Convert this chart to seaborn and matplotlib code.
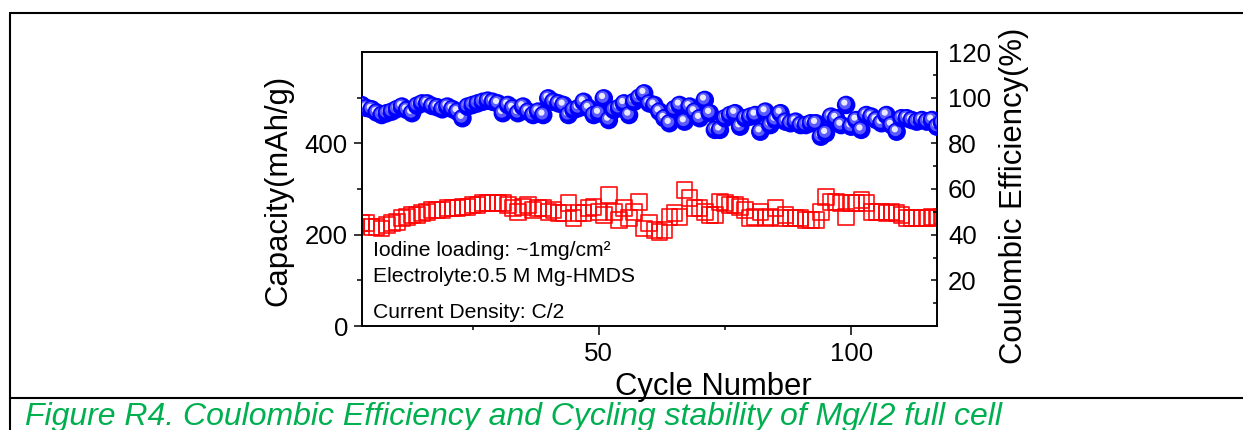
import numpy as np
import pandas as pd
import matplotlib
matplotlib.use("Agg")
import matplotlib.pyplot as plt
import matplotlib.transforms as mtransforms
from matplotlib.lines import Line2D
from matplotlib.ticker import FixedLocator
import seaborn as sns

# ---------------- data ----------------
cycles = list(range(1, 121))

capacity = [222, 218, 225, 225, 217, 217, 214, 221, 225, 228,
            236, 239, 243, 243, 247, 250, 254, 254, 254, 258,
            258, 258, 261, 261, 265, 265, 269, 269, 269, 269,
            269, 265, 258, 250, 261, 265, 254, 258, 258, 250,
            254, 247, 247, 269, 236, 247, 247, 258, 261, 250,
            243, 287, 250, 232, 258, 236, 250, 272, 214, 225,
            210, 206, 210, 239, 247, 239, 298, 280, 258, 258,
            250, 243, 243, 272, 269, 265, 265, 261, 254, 236,
            239, 250, 236, 239, 258, 236, 243, 236, 236, 236,
            232, 232, 232, 250, 283, 272, 272, 269, 239, 269,
            269, 276, 269, 250, 250, 250, 247, 250, 247, 243,
            236, 236, 236, 236, 236, 239, 236, 240, 238, 236]

coulombic_eff = [95.0, 96.0, 96.8, 95.5, 94.9, 93.5, 92.4, 93.2, 93.9, 95.0,
                 96.1, 94.6, 93.2, 96.5, 97.5, 97.5, 96.4, 95.8, 94.9, 96.1,
                 95.0, 93.9, 91.0, 96.1, 96.8, 97.5, 98.2, 98.7, 98.2, 97.5,
                 93.2, 96.8, 95.4, 93.2, 96.1, 93.9, 92.4, 93.9, 92.4, 99.7,
                 98.2, 97.5, 96.8, 92.4, 94.6, 95.4, 98.2, 95.4, 92.4, 93.2,
                 99.7, 90.2, 94.6, 95.5, 97.5, 92.4, 98.2, 100.0, 101.9, 97.5,
                 96.8, 93.9, 91.0, 88.8, 95.0, 96.8, 89.5, 96.1, 93.9, 91.0,
                 99.0, 93.2, 85.9, 85.9, 91.0, 92.4, 93.2, 87.3, 91.0, 91.7,
                 92.4, 85.1, 93.9, 88.0, 90.2, 93.2, 89.5, 88.8, 89.5, 88.0,
                 88.0, 88.8, 88.8, 82.9, 84.4, 91.7, 91.0, 88.0, 96.8, 87.3,
                 90.2, 85.9, 92.4, 91.7, 90.2, 88.8, 92.4, 88.0, 85.1, 91.0,
                 91.0, 90.2, 89.5, 90.2, 89.5, 90.2, 87.3, 89.0, 90.0, 89.0]

x_major = [50, 100]
x_minor = [25, 75]
cap_major = [0, 200, 400]
cap_minor = [100, 300, 500]
ce_major = [20, 40, 60, 80, 100, 120]
ce_minor = [10, 30, 50, 70, 90, 110]

annotations = ["Iodine loading: ~1mg/cm\u00b2",
               "Electrolyte:0.5 M Mg-HMDS",
               "Current Density: C/2"]
caption = "Figure R4. Coulombic Efficiency and Cycling stability of Mg/I2 full cell"

df = pd.DataFrame({"cycle": cycles, "capacity": capacity, "ce": coulombic_eff})

# ---------------- style ----------------
sns.set_style("white")
plt.rcParams["font.family"] = ["Liberation Sans", "DejaVu Sans"]
plt.rcParams["axes.linewidth"] = 1.2
for key in ["text.color", "axes.labelcolor", "xtick.color", "ytick.color",
            "xtick.labelcolor", "ytick.labelcolor"]:
    plt.rcParams[key] = "black"

W, H = 1243, 430
fig = plt.figure(figsize=(W / 100, H / 100), dpi=100)
fig.patch.set_facecolor("white")

left, right, bottom, top = 361.5 / W, 937 / W, 1 - 326 / H, 1 - 52 / H
ax = fig.add_axes([left, bottom, right - left, top - bottom])
ax2 = ax.twinx()

# capacity: open red squares on left axis
sns.scatterplot(data=df, x="cycle", y="capacity", ax=ax, marker="s", s=125,
                facecolor="none", edgecolor="#ff0000", linewidth=1.25,
                alpha=0.9, legend=False, zorder=3)

# coulombic efficiency: shaded blue spheres on right axis
off_mid = mtransforms.offset_copy(ax2.transData, fig=fig, x=-0.8, y=1.0, units="points")
off_hi = mtransforms.offset_copy(ax2.transData, fig=fig, x=-1.3, y=1.7, units="points")
for i, (c, v) in enumerate(zip(cycles, coulombic_eff)):
    z = 3 + i * 0.01
    ax2.scatter([c], [v], s=178, color="#0000ff", edgecolor="none", zorder=z)
    ax2.scatter([c], [v], s=72, color="#5a5aff", edgecolor="none", zorder=z + 0.003,
                transform=off_mid)
    ax2.scatter([c], [v], s=20, color="#e8e8ff", edgecolor="none", zorder=z + 0.006,
                transform=off_hi)

# ---------------- axes ----------------
ax.set_xlim(3, 117)
ax.set_ylim(0, 600)
ax2.set_ylim(0, 120)

ax.xaxis.set_major_locator(FixedLocator(x_major))
ax.xaxis.set_minor_locator(FixedLocator(x_minor))
ax.yaxis.set_major_locator(FixedLocator(cap_major))
ax.yaxis.set_minor_locator(FixedLocator(cap_minor))
ax2.yaxis.set_major_locator(FixedLocator(ce_major))
ax2.yaxis.set_minor_locator(FixedLocator(ce_minor))

tick_fs = 18.6
ax.tick_params(axis="y", which="major", direction="out", length=5.8, width=1.1,
               labelsize=tick_fs, pad=4, left=True, right=False)
ax.tick_params(axis="y", which="minor", direction="out", length=3.6, width=1.1,
               left=True, right=False)
ax.tick_params(axis="x", which="major", direction="out", length=6.5, width=1.1,
               labelsize=tick_fs, pad=5, bottom=True, top=False)
ax.tick_params(axis="x", which="minor", direction="out", length=3.2, width=1.1,
               bottom=True, top=False)
ax2.tick_params(axis="y", which="major", direction="in", length=4.3, width=1.1,
                labelsize=tick_fs, pad=8, right=True, left=False)
ax2.tick_params(axis="y", which="minor", direction="in", length=2.9, width=1.1,
                right=True, left=False)

for a in (ax, ax2):
    for sp in a.spines.values():
        sp.set_visible(True)
        sp.set_color("black")
        sp.set_linewidth(1.2)

label_fs = 22.3
ax.set_xlabel("Cycle Number", fontsize=label_fs)
ax.set_ylabel("Capacity(mAh/g)", fontsize=label_fs)
ax2.set_ylabel("Coulombic Efficiency(%)", fontsize=label_fs)
ax.xaxis.set_label_coords(0.611, -0.168)
ax.yaxis.set_label_coords(-0.119, 0.496)
ax2.yaxis.set_label_coords(1.107, 0.474)

# annotation text block
for txt, yy in zip(annotations, [0.277, 0.179, 0.051]):
    ax.text(0.02, yy, txt, transform=ax.transAxes, fontsize=15.2,
            va="center", ha="left", color="black")

# ---------------- document frame and caption ----------------
lw_frame = 1.5
fig.add_artist(Line2D([10 / W, 1.0], [1 - 13 / H, 1 - 13 / H],
                      transform=fig.transFigure, color="black", lw=lw_frame))
fig.add_artist(Line2D([10 / W, 10 / W], [0.0, 1 - 13 / H],
                      transform=fig.transFigure, color="black", lw=lw_frame))
fig.add_artist(Line2D([10 / W, 1.0], [1 - 398 / H, 1 - 398 / H],
                      transform=fig.transFigure, color="black", lw=lw_frame))

fig.text(25 / W, 1 - 425 / H, caption, color="#00b050", fontstyle="italic",
         fontsize=23.0, ha="left", va="baseline")

fig.savefig("out.png", dpi=100, facecolor="white")
